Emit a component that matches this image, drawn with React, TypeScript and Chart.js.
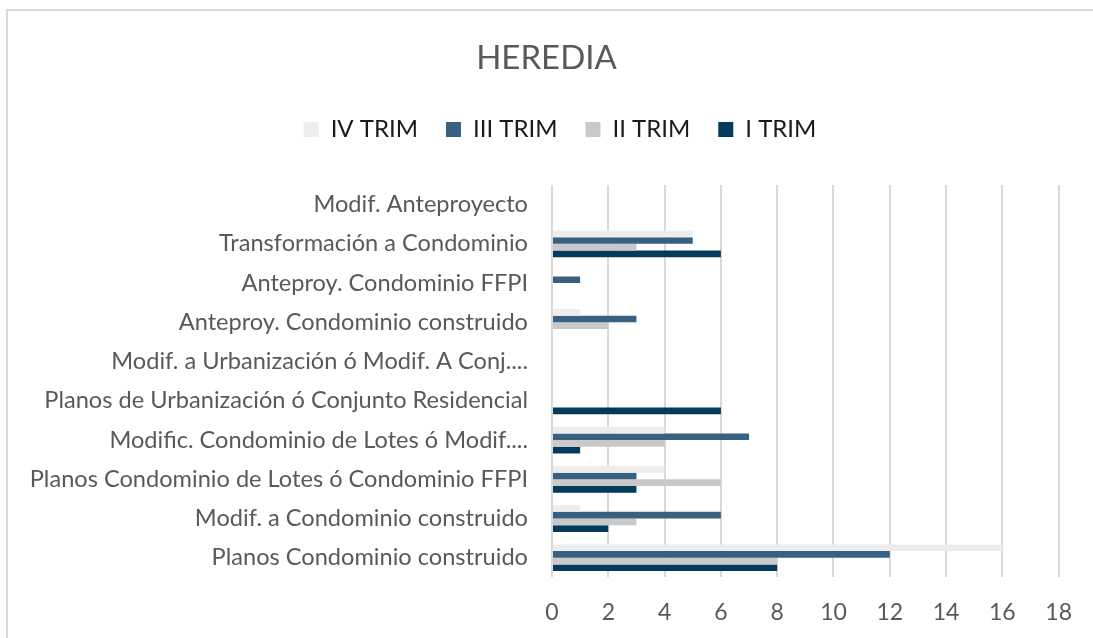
import React, { useEffect, useRef } from "react";
import { Chart, registerables } from "chart.js";

Chart.register(...registerables);

const categories: string[] = [
  "Modif. Anteproyecto",
  "Transformación a Condominio",
  "Anteproy. Condominio FFPI",
  "Anteproy. Condominio construido",
  "Modif. a Urbanización ó Modif. A Conj....",
  "Planos de Urbanización ó Conjunto Residencial",
  "Modific. Condominio de Lotes ó Modif....",
  "Planos Condominio de Lotes ó Condominio FFPI",
  "Modif. a Condominio construido",
  "Planos Condominio construido",
];

const trimIV: number[] = [0, 5, 0, 1, 0, 0, 4, 4, 1, 16];
const trimIII: number[] = [0, 5, 1, 3, 0, 0, 7, 3, 6, 12];
const trimII: number[] = [0, 3, 0, 2, 0, 0, 4, 6, 3, 8];
const trimI: number[] = [0, 6, 0, 0, 0, 6, 1, 3, 2, 8];

const seriesLabels: string[] = ["IV TRIM", "III TRIM", "II TRIM", "I TRIM"];
const seriesColors: string[] = ["#EDEDED", "#386080", "#C9C9C9", "#043A5C"];

const xMin = 0;
const xMax = 18;
const xStep = 2;

export default function App() {
  const canvasRef = useRef<HTMLCanvasElement | null>(null);

  useEffect(() => {
    if (!canvasRef.current) return;
    const legendTweak = {
      id: "legendTweak",
      beforeInit(chart: any) {
        const lg = chart.legend;
        if (lg) {
          const origFit = lg.fit;
          lg.fit = function () {
            origFit.call(this);
            this.height = 95.4;
          };
        }
      },
      afterLayout(chart: any) {
        const lg = chart.legend;
        if (lg) {
          lg.left += 13.5;
          lg.right += 13.5;
        }
      },
    };
    const values = [trimIV, trimIII, trimII, trimI];
    const chart = new Chart(canvasRef.current, {
      type: "bar",
      data: {
        labels: categories,
        datasets: seriesLabels.map((label, i) => ({
          label,
          data: values[i],
          backgroundColor: seriesColors[i],
          borderWidth: 0,
          categoryPercentage: 0.68,
          barPercentage: 1,
        })),
      },
      options: {
        indexAxis: "y",
        responsive: false,
        animation: false,
        layout: { padding: { left: 0, right: 0, top: 0, bottom: 12 } },
        plugins: {
          title: {
            display: true,
            text: "HEREDIA",
            color: "#595959",
            font: { family: "Lato", size: 33, weight: "normal" },
            padding: { top: 39, bottom: 11 },
          },
          legend: {
            display: true,
            position: "top",
            labels: {
              color: "#1a1a1a",
              font: { family: "Lato", size: 24 },
              boxWidth: 15,
              boxHeight: 15,
              padding: 28,
            },
          },
          tooltip: { enabled: false },
        },
        scales: {
          x: {
            min: xMin,
            max: xMax,
            ticks: {
              stepSize: xStep,
              color: "#595959",
              font: { family: "Lato", size: 23 },
              padding: 21,
            },
            grid: {
              color: "#D9D9D9",
              lineWidth: 2,
              drawTicks: false,
            },
            border: { display: false },
            afterFit: (s: any) => {
              s.height = 48.6;
            },
          },
          y: {
            ticks: {
              color: "#595959",
              font: { family: "Lato", size: 23.6 },
              padding: 24,
              autoSkip: false,
            },
            grid: { display: false, drawTicks: false },
            border: { display: false },
            afterFit: (s: any) => {
              s.width = 552;
            },
          },
          yRight: {
            type: "category",
            position: "right",
            display: true,
            ticks: { display: false },
            grid: { display: false, drawTicks: false },
            border: { display: false },
            afterFit: (s: any) => {
              s.width = 33;
            },
          },
        },
      },
      plugins: [legendTweak],
    } as any);
    return () => chart.destroy();
  }, []);

  return (
    <div
      style={{
        position: "fixed",
        left: 0,
        top: 0,
        width: 1093,
        height: 638,
        background: "#fff",
        overflow: "hidden",
      }}
    >
      <div
        style={{
          position: "absolute",
          left: 6,
          top: 9,
          width: 1200,
          height: 1000,
          border: "2px solid #D9D9D9",
        }}
      />
      <canvas
        ref={canvasRef}
        width={1093}
        height={638}
        style={{ position: "absolute", left: 0, top: 0 }}
      />
    </div>
  );
}
